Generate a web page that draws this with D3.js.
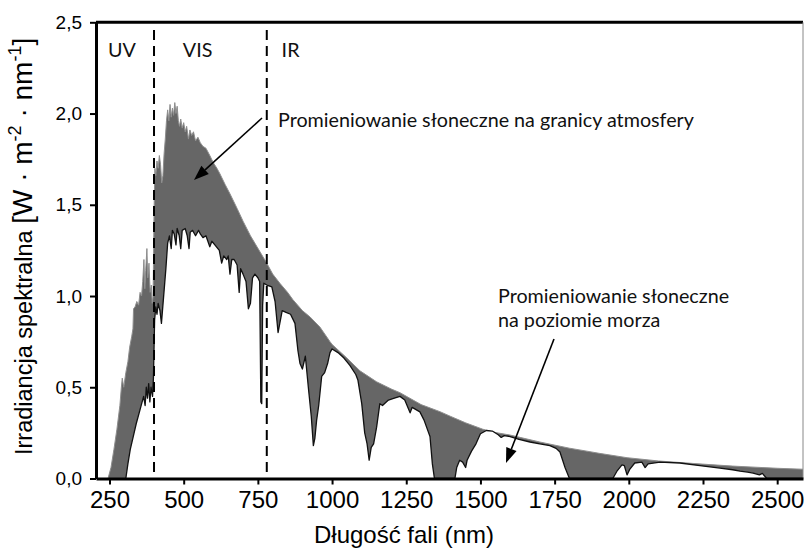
<!DOCTYPE html>
<html><head><meta charset="utf-8">
<script src="https://cdn.jsdelivr.net/npm/d3@7"></script>
<style>body{margin:0;background:#fff}svg{display:block}</style>
</head><body>
<svg id="c" width="804" height="554"></svg>
<script>
// ---- data ----
const etWavelength = [245,255,265,275,285,290,293,298,305,312,318,325,329,331,336,342,348,353,358,362,366,369,372,376,379,383,387,391,394,397,400,403,406,410,414,418,422,426,430,434,438,442,446,450,454,458,462,466,470,474,478,482,486,490,495,500,505,510,516,521,527,533,540,548,556,565,575,588,600,612,622,640,656,680,700,725,747,780,800,824,850,868,900,926,959,993,1000,1050,1094,1150,1200,1229,1300,1364,1400,1450,1508,1520,1550,1600,1700,1800,1869,1900,1994,2100,2247,2350,2500,2600];
const etIrradiance = [0,0.06,0.16,0.27,0.40,0.50,0.55,0.50,0.58,0.64,0.72,0.78,0.82,0.93,0.94,0.97,0.95,1.02,1.00,1.08,1.20,1.04,1.14,1.26,1.10,1.18,1.02,1.06,0.96,1.00,1.45,1.70,1.66,1.74,1.70,1.77,1.72,1.62,1.66,1.78,1.86,1.96,2.02,1.96,2.05,1.98,2.03,1.99,2.06,2.00,2.04,1.96,1.93,1.97,1.92,1.95,1.90,1.93,1.86,1.91,1.88,1.90,1.85,1.87,1.84,1.82,1.81,1.77,1.73,1.70,1.67,1.61,1.56,1.48,1.41,1.33,1.27,1.18,1.12,1.07,1.02,0.98,0.92,0.885,0.83,0.75,0.735,0.66,0.59,0.53,0.49,0.47,0.405,0.366,0.34,0.305,0.27,0.265,0.252,0.238,0.20,0.166,0.147,0.138,0.114,0.096,0.079,0.068,0.056,0.05];

const slWavelength = [305,312,320,330,340,350,360,365,370,374,378,382,386,390,395,398,402,406,410,414,420,425,430,440,446,452,458,462,468,474,478,485,490,495,505,512,518,522,530,540,550,556,565,575,588,595,605,620,628,635,645,650,656,662,670,680,687,692,700,710,718,725,732,740,750,756,760,763,766,770,780,797,808,818,825,832,845,860,875,885,892,900,910,920,930,937,942,948,955,965,975,985,993,1000,1020,1040,1060,1080,1087,1100,1110,1118,1125,1132,1140,1150,1161,1170,1190,1210,1229,1245,1263,1270,1296,1310,1330,1338,1345,1414,1420,1430,1440,1450,1455,1470,1485,1500,1520,1540,1560,1570,1580,1600,1630,1667,1700,1734,1755,1768,1785,1800,1946,1960,1977,1985,1994,2003,2020,2044,2055,2065,2105,2172,2240,2307,2350,2375,2400,2419,2440,2450,2465,2600];
const slIrradiance = [0,0.08,0.16,0.23,0.30,0.36,0.42,0.45,0.40,0.50,0.44,0.52,0.42,0.50,0.45,0.55,0.87,0.94,0.90,0.96,0.92,0.85,0.95,1.15,1.29,1.33,1.26,1.36,1.34,1.28,1.37,1.33,1.26,1.36,1.37,1.33,1.26,1.35,1.36,1.33,1.36,1.34,1.32,1.33,1.27,1.30,1.28,1.25,1.18,1.22,1.20,1.22,1.12,1.20,1.20,1.17,1.02,1.15,1.12,1.08,0.93,0.96,1.10,1.12,1.10,1.08,0.42,0.41,0.95,1.07,1.06,1.05,0.97,0.80,0.86,0.92,0.91,0.90,0.85,0.70,0.63,0.60,0.67,0.50,0.34,0.18,0.22,0.32,0.40,0.56,0.58,0.63,0.69,0.71,0.69,0.66,0.62,0.57,0.54,0.41,0.25,0.19,0.10,0.17,0.19,0.28,0.41,0.40,0.43,0.44,0.45,0.43,0.36,0.39,0.365,0.32,0.23,0.08,0,0,0.06,0.10,0.09,0.06,0.10,0.15,0.19,0.245,0.263,0.26,0.24,0.225,0.235,0.23,0.215,0.20,0.19,0.18,0.165,0.145,0.06,0,0,0.04,0.075,0.07,0.02,0.05,0.085,0.09,0.06,0.08,0.09,0.085,0.07,0.057,0.048,0.04,0.035,0.03,0.02,0.028,0,0];

const xTicks = [250,500,750,1000,1250,1500,1750,2000,2250,2500];
const yTicks = [0,0.5,1.0,1.5,2.0,2.5];
const regionBounds = [400, 780];
const regionLabels = [{t:"UV", w:245}, {t:"VIS", w:497}, {t:"IR", w:830}];
const annotationTop = "Promieniowanie słoneczne na granicy atmosfery";
const annotationSea = ["Promieniowanie słoneczne", "na poziomie morza"];
const xTitle = "Długość fali (nm)";

// ---- scales ----
const svg = d3.select("#c");
const x = d3.scaleLinear().domain([204.5, 2587]).range([96, 803]);
const y = d3.scaleLinear().domain([0, 2.5]).range([478.5, 22.3]);

svg.append("defs").append("clipPath").attr("id","plot")
  .append("rect").attr("x",96).attr("y",22).attr("width",707).attr("height",457);

const etData = etWavelength.map((w,i)=>({w, v: etIrradiance[i]}));
const slData = slWavelength.map((w,i)=>({w, v: slIrradiance[i]}));
const area = d3.area().x(d=>x(d.w)).y0(y(0)).y1(d=>y(d.v));
const line = d3.line().x(d=>x(d.w)).y(d=>y(d.v));

const g = svg.append("g").attr("clip-path","url(#plot)");
g.append("path").datum(etData).attr("d", area).attr("fill","#666");
g.append("path").datum(etData).attr("d", line).attr("fill","none").attr("stroke","#8e8e8e").attr("stroke-width",1);
g.append("path").datum(slData).attr("d", area).attr("fill","#fff");
g.append("path").datum(slData).attr("d", line).attr("fill","none").attr("stroke","#111").attr("stroke-width",1.3).attr("stroke-linejoin","round");

// dashed region boundaries
svg.selectAll("line.region").data(regionBounds).enter().append("line")
  .attr("x1", d=>x(d)).attr("x2", d=>x(d)).attr("y1", 30).attr("y2", y(0))
  .attr("stroke","#000").attr("stroke-width",2).attr("stroke-dasharray","10,6");

// frame
svg.append("line").attr("x1",96).attr("x2",803).attr("y1",y(2.5)).attr("y2",y(2.5)).attr("stroke","#000").attr("stroke-width",3);
svg.append("line").attr("x1",803).attr("x2",803).attr("y1",y(2.5)).attr("y2",y(0)).attr("stroke","#888").attr("stroke-width",1);

// axes
const xAxis = svg.append("g").attr("transform",`translate(0,${y(0)})`)
  .call(d3.axisBottom(x).tickValues(xTicks).tickSize(6).tickSizeOuter(0).tickPadding(6).tickFormat(d3.format("d")));
xAxis.select(".domain").attr("stroke-width",3);
xAxis.selectAll(".tick line").attr("stroke-width",2);
xAxis.selectAll("text").attr("font-family","'Liberation Sans', Arial, sans-serif").attr("font-size",24).attr("fill","#000");

const yAxis = svg.append("g").attr("transform","translate(96,0)")
  .call(d3.axisLeft(y).tickValues(yTicks).tickSize(6).tickSizeOuter(0).tickPadding(8)
    .tickFormat(d => d3.format(".1f")(d).replace(".", ",")));
yAxis.select(".domain").attr("stroke-width",3);
yAxis.selectAll(".tick line").attr("stroke-width",2);
yAxis.selectAll("text").attr("font-family","'Liberation Sans', Arial, sans-serif").attr("font-size",19).attr("fill","#000");

// axis titles
svg.append("text").attr("x",404).attr("y",543).attr("text-anchor","middle")
  .attr("font-family","'Liberation Sans', Arial, sans-serif").attr("font-size",24).text(xTitle);

const yt = svg.append("text").attr("transform","translate(32,455) rotate(-90)").attr("text-anchor","start")
  .attr("font-family","'Liberation Sans', Arial, sans-serif").attr("font-size",23.5);
yt.append("tspan").text("Irradiancja spektralna  ");
yt.append("tspan").attr("font-size",28).text("[W · m");
yt.append("tspan").attr("font-size",18).attr("dy",-11).text("-2");
yt.append("tspan").attr("font-size",28).attr("dy",11).text(" · nm");
yt.append("tspan").attr("font-size",18).attr("dy",-11).text("-1");
yt.append("tspan").attr("font-size",28).attr("dy",11).text("]");

// annotations
const annFont = "Lato, 'Open Sans', sans-serif";
const a1 = svg.append("text").attr("x",278).attr("y",127).attr("font-family",annFont).attr("font-size",20).attr("fill","#111").text(annotationTop);
const w1 = a1.node().getComputedTextLength();
const annSize = 20*416/w1;
a1.attr("font-size", annSize);

svg.selectAll("text.reg").data(regionLabels).enter().append("text")
  .attr("x", d=>x(d.w)).attr("y",57).attr("font-family",annFont).attr("font-size",annSize).attr("fill","#111").text(d=>d.t);

annotationSea.forEach((t,i)=>{
  svg.append("text").attr("x",498).attr("y",303+i*24).attr("font-family",annFont).attr("font-size",annSize).attr("fill","#111").text(t);
});

// arrows
function arrow(x1,y1,x2,y2){
  const ang = Math.atan2(y2-y1, x2-x1), L=15, W=5.5;
  const bx = x2 - L*Math.cos(ang), by = y2 - L*Math.sin(ang);
  svg.append("line").attr("x1",x1).attr("y1",y1).attr("x2",bx).attr("y2",by).attr("stroke","#000").attr("stroke-width",1.6);
  const px = -Math.sin(ang)*W, py = Math.cos(ang)*W;
  svg.append("polygon").attr("points",`${x2},${y2} ${bx+px},${by+py} ${bx-px},${by-py}`).attr("fill","#000");
}
arrow(262,118,194,180);
arrow(554,339,506,463);
</script>
</body></html>
